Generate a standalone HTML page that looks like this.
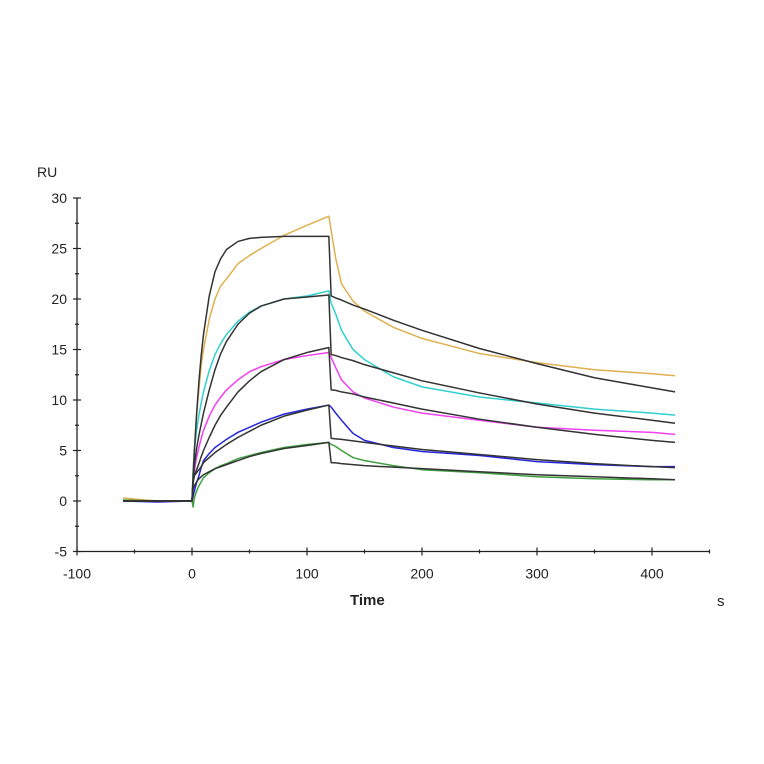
<!DOCTYPE html>
<html><head><meta charset="utf-8"><style>
html,body{margin:0;padding:0;background:#fff;}
svg{display:block;font-family:"Liberation Sans",Arial,sans-serif;}
</style></head><body>
<svg id="chart" width="764" height="764" viewBox="0 0 764 764" xmlns="http://www.w3.org/2000/svg">
<rect width="764" height="764" fill="#fff"/>
<g id="axes"></g>
<g id="series"></g>
<text x="37" y="177" font-size="14" fill="#222">RU</text>
<text x="350" y="605" font-size="15" font-weight="bold" fill="#222">Time</text>
<text x="717" y="606" font-size="15" fill="#222">s</text>
</svg>
<script>
const xTicks=[-100,0,100,200,300,400];
const yTicks=[-5,0,5,10,15,20,25,30];
const tA=[-60,-30,0,1,2,4,6,8,10,15,20,25,30,40,50,60,80,100,119];
const tD=[121,125,130,140,150,175,200,250,300,350,400,420];
const orangeA=[0.3,0,0,3,5,8.5,11,13.5,15,18,20,21.3,22,23.5,24.3,25,26.3,27.3,28.2];
const orangeD=[26.8,24,21.5,19.8,18.8,17.2,16.1,14.6,13.7,13,12.6,12.4];
const orangeFitA=[0,0,0,2.5,4.8,8.6,11.8,14.4,16.5,20.3,22.7,24,24.9,25.7,26,26.1,26.2,26.2,26.2];
const orangeFitD=[20.3,20.1,19.9,19.4,19,17.9,16.9,15.1,13.6,12.2,11.2,10.8];
const cyanA=[0,0,0,3,5,7,8.5,9.7,10.8,12.9,14.5,15.6,16.5,17.8,18.7,19.3,20,20.3,20.8];
const cyanD=[19.6,18.5,16.9,15,14,12.3,11.3,10.3,9.7,9.1,8.7,8.5];
const cyanFitA=[0,0,0,2,3.5,5.2,6.5,7.6,8.7,11,13,14.6,15.8,17.5,18.6,19.3,20,20.2,20.4];
const cyanFitD=[14.5,14.4,14.2,13.9,13.5,12.7,11.9,10.7,9.6,8.7,8,7.7];
const magentaA=[0,0,0,2,3,4.3,5.3,6.2,7,8.4,9.5,10.3,11,12,12.8,13.3,14,14.4,14.7];
const magentaD=[14.2,13.2,12,10.8,10.2,9.3,8.7,8,7.3,7,6.8,6.6];
const magentaFitA=[0,0,0,1.8,2.5,3.1,3.7,4.4,5,6.3,7.5,8.5,9.3,10.8,11.9,12.8,14,14.7,15.2];
const magentaFitD=[11,10.95,10.8,10.6,10.3,9.7,9.1,8.1,7.3,6.6,6,5.8];
const blueA=[0,-0.1,0,0.5,1,1.8,2.5,3.3,4,4.7,5.3,5.7,6.1,6.8,7.3,7.8,8.6,9.1,9.5];
const blueD=[9.3,8.7,8,6.7,6,5.3,4.9,4.5,3.9,3.6,3.4,3.4];
const blueFitA=[0,0,0,2,2.5,2.8,3.1,3.4,3.8,4.3,4.8,5.2,5.6,6.3,6.9,7.5,8.4,9,9.5];
const blueFitD=[6.2,6.15,6.1,5.95,5.8,5.45,5.1,4.6,4.1,3.7,3.4,3.3];
const greenA=[0.1,0,0,-0.6,0.3,1,1.5,1.9,2.3,2.8,3.2,3.5,3.7,4.2,4.5,4.8,5.3,5.6,5.8];
const greenD=[5.6,5.4,5,4.3,4,3.5,3.1,2.8,2.4,2.2,2.1,2.1];
const greenFitA=[0,0,0,1.2,1.5,1.9,2.2,2.4,2.6,2.9,3.2,3.4,3.6,4,4.4,4.7,5.2,5.5,5.8];
const greenFitD=[3.8,3.78,3.7,3.6,3.5,3.35,3.2,2.9,2.6,2.4,2.2,2.1];

const X=v=>192+(v)*1.15;
const Y=v=>501-(v)*10.1;
const NS="http://www.w3.org/2000/svg";
const ax=document.getElementById('axes');
function mk(tag,attrs,parent){const e=document.createElementNS(NS,tag);for(const k in attrs)e.setAttribute(k,attrs[k]);parent.appendChild(e);return e;}
const xl=mk('line',{x1:X(-100),y1:Y(-5),x2:X(450),y2:Y(-5),stroke:'#222','stroke-width':1.3},ax);


const yl=mk('line',{x1:X(-100),y1:Y(-5),x2:X(-100),y2:Y(30),stroke:'#222','stroke-width':1.3},ax);


for(let v=-100;v<=450;v+=50){const major=v%100===0;mk('line',{x1:X(v),y1:Y(-5)-(major?4:2),x2:X(v),y2:Y(-5)+(major?4:2),stroke:'#222','stroke-width':1.2},ax);}
for(let v=-5;v<=30;v+=2.5){const major=v%5===0;mk('line',{x1:X(-100)-(major?4:2),y1:Y(v),x2:X(-100)+(major?4:2),y2:Y(v),stroke:'#222','stroke-width':1.2},ax);}
xTicks.forEach(v=>{const t=mk('text',{x:X(v),y:Y(-5)+27,'font-size':14,'text-anchor':'middle',fill:'#222'},ax);t.textContent=v;

});
yTicks.forEach(v=>{const t=mk('text',{x:X(-100)-10,y:Y(v)+5,'font-size':14,'text-anchor':'end',fill:'#222'},ax);t.textContent=v;

});
const sg=document.getElementById('series');
function draw(a,d,color,name,w){
  const pts=tA.map((t,i)=>X(t)+','+Y(a[i])).concat(tD.map((t,i)=>X(t)+','+Y(d[i])));
  const p=mk('polyline',{points:pts.join(' '),fill:'none',stroke:color,'stroke-width':w,'stroke-linejoin':'round'},sg);
  
  
}
draw(orangeA,orangeD,'#e0b050','series-orange',1.5);
draw(cyanA,cyanD,'#30d0d0','series-cyan',1.5);
draw(magentaA,magentaD,'#f040f0','series-magenta',1.5);
draw(blueA,blueD,'#2525dd','series-blue',1.5);
draw(greenA,greenD,'#40a040','series-green',1.5);
draw(orangeFitA,orangeFitD,'#333','fit-orange',1.5);
draw(cyanFitA,cyanFitD,'#333','fit-cyan',1.5);
draw(magentaFitA,magentaFitD,'#333','fit-magenta',1.5);
draw(blueFitA,blueFitD,'#333','fit-blue',1.5);
draw(greenFitA,greenFitD,'#333','fit-green',1.5);
</script>
</body></html>
